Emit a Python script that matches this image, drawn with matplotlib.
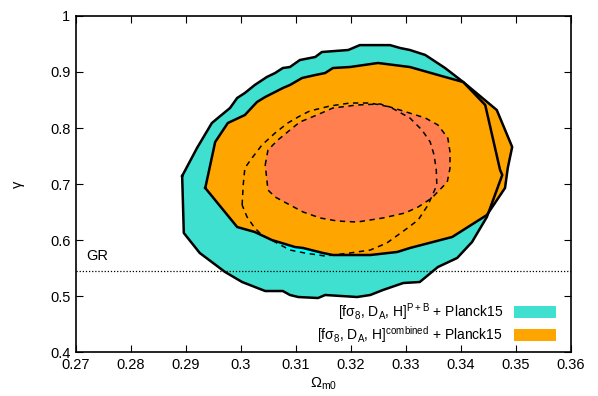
import matplotlib
matplotlib.use("Agg")
import matplotlib.pyplot as plt
from matplotlib.patches import Patch

plt.rcParams['font.family'] = ['Liberation Sans', 'DejaVu Sans']
plt.rcParams['font.size'] = 10.5
plt.rcParams['mathtext.fontset'] = 'custom'
plt.rcParams['mathtext.rm'] = 'Liberation Sans'
plt.rcParams['mathtext.it'] = 'Liberation Sans:italic'

# 2 sigma contour, [f sigma_8, D_A, H]^{P+B} + Planck15
pb2_om = [0.2893, 0.2920, 0.2947, 0.2958, 0.2980, 0.2993, 0.3007, 0.3025, 0.3047,
          0.3062, 0.3076, 0.3089, 0.3107, 0.3135, 0.3147, 0.3195, 0.3216, 0.3271,
          0.3289, 0.3307, 0.3335, 0.3371, 0.3404, 0.3444, 0.3471, 0.3475, 0.3447,
          0.3420, 0.3393, 0.3358, 0.3325, 0.3295, 0.3258, 0.3235, 0.3211, 0.3153,
          0.3140, 0.3104, 0.3089, 0.3076, 0.3044, 0.3002, 0.2971, 0.2925, 0.2896]
pb2_g = [0.7143, 0.7643, 0.8089, 0.8179, 0.8357, 0.8536, 0.8625, 0.8768, 0.8911,
         0.8982, 0.9071, 0.9089, 0.9214, 0.9268, 0.9357, 0.9393, 0.9480, 0.9480,
         0.9429, 0.9393, 0.9304, 0.9071, 0.8821, 0.8411, 0.7250, 0.7161, 0.6411,
         0.5964, 0.5679, 0.5518, 0.5250, 0.5232, 0.5107, 0.5018, 0.4982, 0.5018,
         0.4964, 0.4982, 0.5018, 0.5089, 0.5089, 0.5250, 0.5429, 0.5768, 0.6125]

# 1 sigma contour, P+B
pb1_om = [0.3002, 0.3004, 0.3007, 0.3020, 0.3038, 0.3062, 0.3085, 0.3107, 0.3125,
          0.3162, 0.3198, 0.3235, 0.3271, 0.3307, 0.3329, 0.3344, 0.3351, 0.3355,
          0.3356, 0.3340, 0.3322, 0.3298, 0.3265, 0.3235, 0.3198, 0.3153, 0.3116,
          0.3089, 0.3062, 0.3038, 0.3025, 0.3011]
pb1_g = [0.6625, 0.6982, 0.7286, 0.7464, 0.7696, 0.7911, 0.8089, 0.8214, 0.8304,
         0.8393, 0.8446, 0.8446, 0.8375, 0.8179, 0.7964, 0.7750, 0.7518, 0.7250,
         0.6982, 0.6625, 0.6357, 0.6179, 0.5946, 0.5821, 0.5768, 0.5714, 0.5768,
         0.5821, 0.5964, 0.6089, 0.6214, 0.6411]

# 2 sigma contour, combined
cb2_om = [0.2935, 0.2944, 0.2953, 0.2976, 0.3007, 0.3029, 0.3044, 0.3062, 0.3076,
          0.3089, 0.3111, 0.3135, 0.3153, 0.3167, 0.3198, 0.3249, 0.3307, 0.3371,
          0.3404, 0.3465, 0.3493, 0.3485, 0.3480, 0.3447, 0.3384, 0.3307, 0.3284,
          0.3235, 0.3167, 0.3149, 0.3113, 0.3098, 0.3056, 0.3025, 0.2993]
cb2_g = [0.6929, 0.7339, 0.7750, 0.8089, 0.8232, 0.8464, 0.8554, 0.8643, 0.8714,
         0.8768, 0.8893, 0.8946, 0.8982, 0.9071, 0.9089, 0.9161, 0.9089, 0.8911,
         0.8821, 0.8321, 0.7661, 0.7286, 0.6929, 0.6446, 0.6054, 0.5857, 0.5786,
         0.5732, 0.5732, 0.5768, 0.5857, 0.5875, 0.6000, 0.6143, 0.6232]

# 1 sigma contour, combined
cb1_om = [0.3044, 0.3049, 0.3067, 0.3089, 0.3107, 0.3138, 0.3167, 0.3211, 0.3253,
          0.3289, 0.3335, 0.3358, 0.3376, 0.3380, 0.3380, 0.3375, 0.3347, 0.3322,
          0.3298, 0.3258, 0.3211, 0.3175, 0.3144, 0.3113, 0.3089, 0.3062, 0.3049]
cb1_g = [0.7339, 0.7607, 0.7786, 0.7964, 0.8107, 0.8232, 0.8357, 0.8411, 0.8429,
         0.8321, 0.8179, 0.8054, 0.7821, 0.7571, 0.7286, 0.7036, 0.6750, 0.6589,
         0.6482, 0.6393, 0.6321, 0.6339, 0.6393, 0.6500, 0.6625, 0.6768, 0.6893]

gamma_GR = 0.545

xticks = [0.27, 0.28, 0.29, 0.30, 0.31, 0.32, 0.33, 0.34, 0.35, 0.36]
xlabels = ['0.27', '0.28', '0.29', '0.3', '0.31', '0.32', '0.33', '0.34', '0.35', '0.36']
yticks = [0.4, 0.5, 0.6, 0.7, 0.8, 0.9, 1.0]
ylabels = ['0.4', '0.5', '0.6', '0.7', '0.8', '0.9', '1']

lab_pb = r'[fσ$_{\mathrm{8}}$, D$_{\mathrm{A}}$, H]$^{\mathrm{P+B}}$ + Planck15'
lab_cb = r'[fσ$_{\mathrm{8}}$, D$_{\mathrm{A}}$, H]$^{\mathrm{combined}}$ + Planck15'


def closed(a):
    return list(a) + [a[0]]


fig = plt.figure(figsize=(5.98, 3.96), dpi=100)
ax = fig.add_axes([0.1271, 0.1111, 0.8278, 0.8485])

# filled regions first, borders on top
ax.fill(pb2_om, pb2_g, color='#40E0D0', lw=0)
ax.fill(pb1_om, pb1_g, color='#00FFFF', lw=0)
ax.fill(cb2_om, cb2_g, color='#FFA500', lw=0)
ax.fill(cb1_om, cb1_g, color='#FF7F50', lw=0)

ax.plot(closed(pb2_om), closed(pb2_g), color='black', lw=1.8)
ax.plot(closed(cb2_om), closed(cb2_g), color='black', lw=1.8)
ax.plot(closed(pb1_om), closed(pb1_g), color='black', lw=1.1, dashes=(3.5, 3))
ax.plot(closed(cb1_om), closed(cb1_g), color='black', lw=1.1, dashes=(3.5, 3))

ax.axhline(gamma_GR, color='black', lw=0.9, ls=(0, (1, 1.5)))
ax.text(0.2718, 0.5645, 'GR')

ax.set_xlim(0.27, 0.36)
ax.set_ylim(0.4, 1.0)
ax.set_xticks(xticks)
ax.set_xticklabels(xlabels)
ax.set_yticks(yticks)
ax.set_yticklabels(ylabels)
ax.tick_params(direction='in', length=5, width=0.8, top=True, right=True, pad=4)
for s in ax.spines.values():
    s.set_linewidth(1.2)

ax.set_xlabel(r'Ω$_{\mathrm{m0}}$', labelpad=3)
ax.set_ylabel('γ', labelpad=18)

handles = [Patch(facecolor='#40E0D0', edgecolor='none'),
           Patch(facecolor='#FFA500', edgecolor='none')]
ax.legend(handles, [lab_pb, lab_cb], loc='lower right', frameon=False,
          bbox_to_anchor=(0.98, 0.004), borderaxespad=0,
          markerfirst=False, handlelength=3.0, handleheight=0.95,
          handletextpad=0.8, labelspacing=0.12, fontsize=10)

fig.savefig('out.png', dpi=100)
